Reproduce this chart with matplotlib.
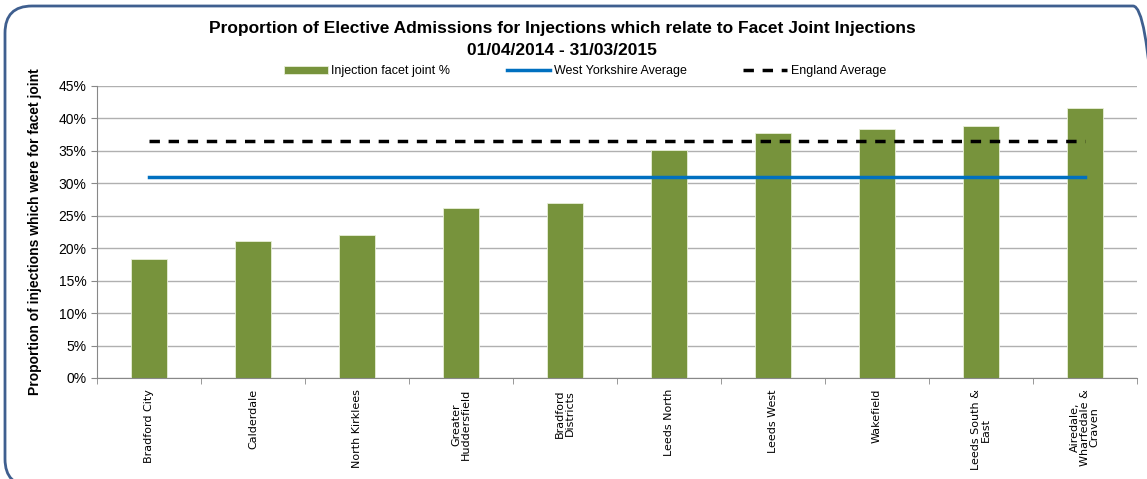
import matplotlib
matplotlib.use('Agg')
import matplotlib.pyplot as plt
from matplotlib.patches import FancyBboxPatch
from matplotlib.ticker import FuncFormatter, MultipleLocator
import numpy as np

plt.rcParams['font.family'] = ['Liberation Sans', 'DejaVu Sans']

# data
areas = ['Bradford City', 'Calderdale', 'North Kirklees', 'Greater\nHuddersfield',
         'Bradford\nDistricts', 'Leeds North', 'Leeds West', 'Wakefield',
         'Leeds South &\nEast', 'Airedale,\nWharfedale &\nCraven']
facet_pct = [18.3, 21.1, 22.1, 26.2, 27.0, 35.1, 37.8, 38.3, 38.9, 41.6]
wy_avg = 30.9
eng_avg = 36.5

green = '#77933C'
blue = '#0070C0'

fig = plt.figure(figsize=(11.47, 4.79), dpi=100)

# rounded outer frame (inches), runs off the right and bottom edges
frame = FancyBboxPatch((0.05, -0.07), 11.55, 4.80, boxstyle='round,pad=0,rounding_size=0.27',
                       transform=fig.dpi_scale_trans, fill=False, edgecolor='#3F5F8F',
                       linewidth=2)
fig.patches.append(frame)

ax = fig.add_axes([0.0846, 0.2109, 0.9064, 0.6096])
x = np.arange(len(areas))
bars = ax.bar(x, facet_pct, width=0.35, color=green, edgecolor='#E8EFD8', linewidth=0.6,
              label='Injection facet joint %', zorder=2)
wy_line, = ax.plot([x[0], x[-1]], [wy_avg, wy_avg], color=blue, linewidth=2.5,
                   label='West Yorkshire Average', zorder=3)
eng_line, = ax.plot([x[0], x[-1]], [eng_avg, eng_avg], color='black', linewidth=2.5,
                    linestyle=(0, (3, 2.5)), label='England Average', zorder=3)

ax.set_xlim(-0.5, len(areas) - 0.5)
ax.set_ylim(0, 45)
ax.yaxis.set_major_locator(MultipleLocator(5))
ax.yaxis.set_major_formatter(FuncFormatter(lambda v, p: f'{v:.0f}%'))
ax.grid(axis='y', color='#B0B0B0', linewidth=1, zorder=0)
ax.set_axisbelow(True)

ax.set_xticks(x)
ax.set_xticklabels(areas, rotation=90, fontsize=8, va='top', ha='center',
                   family=['DejaVu Sans'], linespacing=1.0)
ax.tick_params(axis='x', length=0, pad=8)
ax.set_xticks(np.arange(-0.5, len(areas)), minor=True)
ax.tick_params(axis='x', which='minor', length=4, color='#888888')
ax.tick_params(axis='y', length=4, color='#888888', labelsize=10)

for side in ['top', 'right']:
    ax.spines[side].set_visible(False)
for side in ['left', 'bottom']:
    ax.spines[side].set_color('#888888')

ax.set_ylabel('Proportion of injections which were for facet joint', fontsize=10,
              fontweight='bold', labelpad=12)

fig.text(0.49, 0.94, 'Proportion of Elective Admissions for Injections which relate to Facet Joint Injections',
         ha='center', va='center', fontsize=12.5, fontweight='bold')
fig.text(0.49, 0.895, '01/04/2014 - 31/03/2015', ha='center', va='center',
         fontsize=12.5, fontweight='bold')

fig.legend(handles=[bars, wy_line, eng_line], loc='center', bbox_to_anchor=(0.51, 0.851),
           ncol=3, frameon=False, fontsize=9, handlelength=3.5, columnspacing=4.5,
           handletextpad=0.3)

fig.savefig('out.png', dpi=100)
